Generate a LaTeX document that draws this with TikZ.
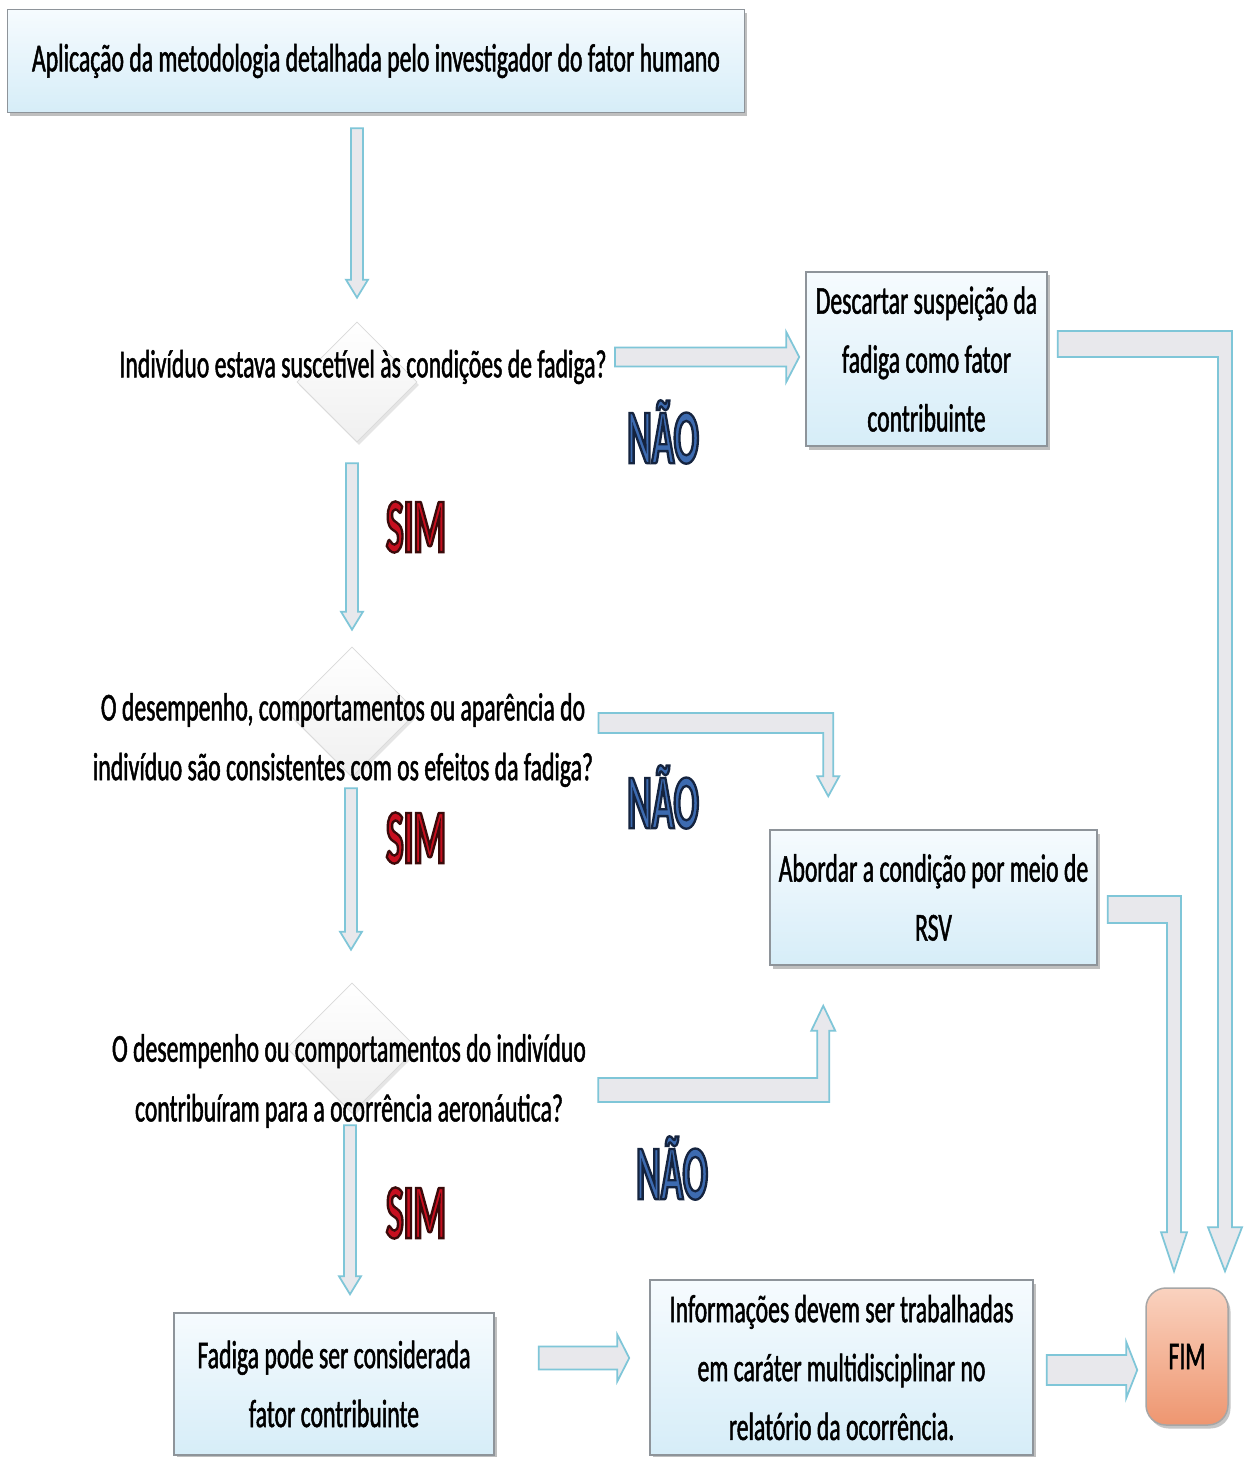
\documentclass[tikz,border=0pt]{standalone}
\usepackage{fontspec}
\setmainfont{Carlito}
\newfontfamily\flowfont{Carlito}[FakeStretch=0.6,FakeBold=1.2]
\newfontfamily\labelfont{Carlito}[FakeStretch=0.48,FakeBold=3]
\usetikzlibrary{shapes.geometric,shadows,calc}

\definecolor{boxtop}{HTML}{F6FBFE}
\definecolor{boxbot}{HTML}{D6EDF8}
\definecolor{boxline}{HTML}{8E949A}
\definecolor{arrowfill}{HTML}{E8E8EC}
\definecolor{arrowline}{HTML}{7FC6D8}
\definecolor{naoline}{HTML}{15243F}
\definecolor{simline}{HTML}{3A0A0A}
\definecolor{fimtop}{HTML}{FAD2BF}
\definecolor{fimbot}{HTML}{EE9670}

% dark outline, coloured inside
\newcommand{\outlined}[3]{\textcolor{#1}{\special{pdf:literal direct #2 rg}#3}}

% straight block arrow: from, to, half shaft, half head, head length
\newcommand{\barrow}[5]{%
  \coordinate (hb) at ($(#2)!#5!(#1)$);
  \filldraw[blockarrow] ($(#1)!#3!90:(#2)$) -- ($(hb)!#3!90:(#2)$) -- ($(hb)!#4!90:(#2)$) -- (#2)
    -- ($(hb)!#4!-90:(#2)$) -- ($(hb)!#3!-90:(#2)$) -- ($(#1)!#3!-90:(#2)$) -- cycle;}

% bent block arrows (px): start, tip, half band, half stem, half head, head length
\newcommand{\benddown}[6]{%
  \filldraw[blockarrow] ($(#1)+(0,-#3)$) -- ($(#2 |- #1)+(#4,-#3)$) -- ($(#2)+(#4,-#6)$) -- ($(#2)+(#5,-#6)$) -- (#2)
    -- ($(#2)+(-#5,-#6)$) -- ($(#2)+(-#4,-#6)$) -- ($(#2 |- #1)+(-#4,#3)$) -- ($(#1)+(0,#3)$) -- cycle;}
\newcommand{\bendup}[6]{%
  \filldraw[blockarrow] ($(#1)+(0,#3)$) -- ($(#2 |- #1)+(#4,#3)$) -- ($(#2)+(#4,#6)$) -- ($(#2)+(#5,#6)$) -- (#2)
    -- ($(#2)+(-#5,#6)$) -- ($(#2)+(-#4,#6)$) -- ($(#2 |- #1)+(-#4,-#3)$) -- ($(#1)+(0,-#3)$) -- cycle;}

\begin{document}
\begin{tikzpicture}[x=0.2mm, y=-0.2mm,
    box/.style={draw=boxline, line width=0.3mm, top color=boxtop, bottom color=boxbot,
      drop shadow={shadow xshift=0.5mm, shadow yshift=-0.7mm, opacity=0.5},
      font=\flowfont\fontsize{22.5}{33.5}\selectfont, align=center, inner sep=0},
    decision/.style={diamond, aspect=1, inner sep=0, draw=gray!30, top color=white, bottom color=gray!12,
      drop shadow={shadow xshift=0.4mm, shadow yshift=-0.6mm, opacity=0.2}},
    question/.style={font=\flowfont\fontsize{22.5}{34}\selectfont, align=center, inner sep=0},
    answer/.style={font=\labelfont\bfseries\fontsize{44}{44}\selectfont, inner sep=0},
    blockarrow/.style={fill=arrowfill, draw=arrowline, line width=0.35mm, line join=miter},
    endnode/.style={draw=gray!70, line width=0.3mm, rounded corners=4mm, top color=fimtop, bottom color=fimbot,
      drop shadow={shadow xshift=0.5mm, shadow yshift=-0.7mm, opacity=0.45},
      font=\flowfont\fontsize{22.5}{25}\selectfont, inner sep=0}]
  \useasboundingbox[fill=white] (0,0) rectangle (1246,1457);

  % boxes
  \node[box, minimum width=147.4mm, minimum height=20.6mm] (top) at (376,61)
    {Aplicação da metodologia detalhada pelo investigador do fator humano};
  \node[box, minimum width=48.2mm, minimum height=34.8mm] (desc) at (926.5,359)
    {Descartar suspeição da\\fadiga como fator\\contribuinte};
  \node[box, minimum width=65.4mm, minimum height=27mm] (rsv) at (933.5,897.5)
    {Abordar a condição por meio de\\RSV};
  \node[box, minimum width=64mm, minimum height=28.4mm] (fad) at (334,1384)
    {Fadiga pode ser considerada\\fator contribuinte};
  \node[box, minimum width=76.6mm, minimum height=35mm] (info) at (841.5,1367.5)
    {Informações devem ser trabalhadas\\em caráter multidisciplinar no\\relatório da ocorrência.};
  \node[endnode, minimum width=16.4mm, minimum height=27.4mm] (fim) at (1187,1356.5) {FIM};

  % decisions
  \node[decision, minimum size=24mm] (d1) at (357,382) {};
  \node[decision, minimum size=26mm] (d2) at (352,712) {};
  \node[decision, minimum size=26mm] (d3) at (352,1048) {};
  \node[question] (q1) at (363,367) {Indivíduo estava suscetível às condições de fadiga?};
  \node[question] (q2) at (343,740)
    {O desempenho, comportamentos ou aparência do\\indivíduo são consistentes com os efeitos da fadiga?};
  \node[question] (q3) at (349,1081)
    {O desempenho ou comportamentos do indivíduo\\contribuíram para a ocorrência aeronáutica?};

  % answers
  \node[answer] (nao1) at (663,432) {\outlined{naoline}{0.24 0.42 0.69}{NÃO}};
  \node[answer] (nao2) at (663,797) {\outlined{naoline}{0.24 0.42 0.69}{NÃO}};
  \node[answer] (nao3) at (672,1168) {\outlined{naoline}{0.24 0.42 0.69}{NÃO}};
  \node[answer] (sim1) at (416,527) {\outlined{simline}{0.78 0.06 0.12}{SIM}};
  \node[answer] (sim2) at (416,838) {\outlined{simline}{0.78 0.06 0.12}{SIM}};
  \node[answer] (sim3) at (416,1213) {\outlined{simline}{0.78 0.06 0.12}{SIM}};

  % arrow ends
  \coordinate (a1s) at ($(top.south -| d1)+(0,15)$);
  \coordinate (a1e) at ($(d1.north)+(0,-24)$);
  \coordinate (a2s) at ($(d1.south)+(-5,21)$);
  \coordinate (a2e) at ($(d2.north)+(0,-17)$);
  \coordinate (a3s) at ($(d2.south)+(-1,11)$);
  \coordinate (a3e) at ($(d3.north)+(-1,-33)$);
  \coordinate (a4s) at ($(d3.south)+(-2,12)$);
  \coordinate (a4e) at ($(a4s |- fad.north)+(0,-18)$);
  \coordinate (a5s) at ($(q1.east)+(8,-10)$);
  \coordinate (a5e) at ($(desc.west)+(-6,-2)$);
  \coordinate (a6s) at ($(fad.east)+(44,-26)$);
  \coordinate (a6e) at ($(info.west)+(-20,-9.5)$);
  \coordinate (a7s) at ($(info.east)+(13,2.5)$);
  \coordinate (a7e) at ($(fim.west)+(-8,13.5)$);
  \coordinate (b1s) at ($(desc.east)+(10,-15)$);
  \coordinate (b1e) at ($(fim.north)+(38,-16)$);
  \coordinate (b2s) at ($(q2.east)+(5,-17)$);
  \coordinate (b2e) at ($(rsv.north west)+(59,-33)$);
  \coordinate (b3s) at ($(rsv.east)+(10,12)$);
  \coordinate (b3e) at ($(fim.north)+(-13,-16)$);
  \coordinate (b4s) at ($(q3.east)+(12,9)$);
  \coordinate (b4e) at ($(rsv.south west)+(54,40)$);

  % connectors
  \barrow{a1s}{a1e}{1.2mm}{2.2mm}{3.6mm}
  \barrow{a2s}{a2e}{1.2mm}{2.2mm}{3.6mm}
  \barrow{a3s}{a3e}{1.2mm}{2.2mm}{3.6mm}
  \barrow{a4s}{a4e}{1.2mm}{2.2mm}{3.6mm}
  \barrow{a5s}{a5e}{1.9mm}{5mm}{2.6mm}
  \barrow{a6s}{a6e}{2.3mm}{4.7mm}{2.4mm}
  \barrow{a7s}{a7e}{3mm}{5.6mm}{2.2mm}
  \benddown{b1s}{b1e}{13}{7}{17}{44}
  \benddown{b2s}{b2e}{10}{5}{11}{20}
  \benddown{b3s}{b3e}{13.5}{7}{13}{39}
  \bendup{b4s}{b4e}{12}{6}{12}{25}
\end{tikzpicture}
\end{document}
